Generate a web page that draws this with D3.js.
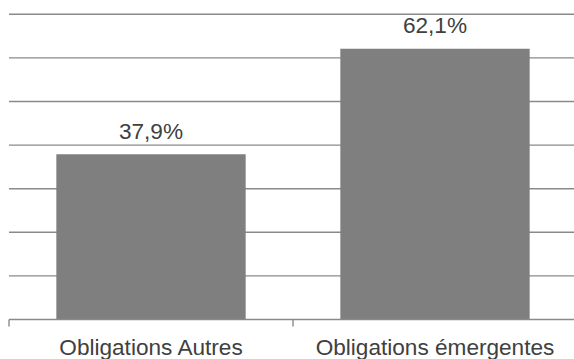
<!DOCTYPE html>
<html>
<head>
<meta charset="utf-8">
<script src="https://cdn.jsdelivr.net/npm/d3@7"></script>
<style>
  body { margin: 0; background: #fff; }
  svg { display: block; font-family: "Liberation Sans", Arial, sans-serif; }
</style>
</head>
<body>
<svg id="chart"></svg>
<script>
// Data
const categories = ["Obligations Autres", "Obligations émergentes"];
const values = [37.9, 62.1];
const gridTicks = [10, 20, 30, 40, 50, 60, 70];

// Layout
const width = 574;
const height = 359;
const x0 = 9, x1 = 577;      // plot area runs slightly past the right edge
const yZero = 319.5, yTop = 14.3;

const svg = d3.select("#chart")
  .attr("width", width)
  .attr("height", height);

const x = d3.scaleBand()
  .domain(categories)
  .range([x0, x1])
  .paddingInner(1 / 3)
  .paddingOuter(1 / 6);

const y = d3.scaleLinear()
  .domain([0, 70])
  .range([yZero, yTop]);

// Gridlines
svg.append("g")
  .selectAll("line")
  .data(gridTicks)
  .join("line")
    .attr("x1", x0)
    .attr("x2", width)
    .attr("y1", d => y(d))
    .attr("y2", d => y(d))
    .attr("stroke", "#8a8a8a")
    .attr("stroke-width", 1.4);

// Bars
svg.append("g")
  .selectAll("rect")
  .data(values)
  .join("rect")
    .attr("x", (d, i) => x(categories[i]))
    .attr("y", d => y(d))
    .attr("width", x.bandwidth())
    .attr("height", d => y(0) - y(d))
    .attr("fill", "#7f7f7f");

// Category axis
const xAxis = d3.axisBottom(x).tickSize(0).tickPadding(0);
const axisG = svg.append("g")
  .attr("transform", `translate(0,${yZero})`)
  .call(xAxis);
axisG.select(".domain").remove();
axisG.selectAll("text").remove();

axisG.append("line")
  .attr("x1", x0).attr("x2", width)
  .attr("y1", 0).attr("y2", 0)
  .attr("stroke", "#8a8a8a")
  .attr("stroke-width", 1.4);

// boundary ticks between categories
const step = x.step();
const tickPos = d3.range(categories.length + 1).map(i => x0 + i * step);
axisG.selectAll(".bt")
  .data(tickPos)
  .join("line")
    .attr("class", "bt")
    .attr("x1", d => d).attr("x2", d => d)
    .attr("y1", 0).attr("y2", 7)
    .attr("stroke", "#8a8a8a")
    .attr("stroke-width", 1.4);

// Category labels
svg.append("g")
  .selectAll("text")
  .data(categories)
  .join("text")
    .attr("x", d => x(d) + x.bandwidth() / 2)
    .attr("y", 355)
    .attr("text-anchor", "middle")
    .attr("font-size", 22.6)
    .attr("fill", "#404040")
    .text(d => d);

// Value labels
svg.append("g")
  .selectAll("text")
  .data(values)
  .join("text")
    .attr("x", (d, i) => x(categories[i]) + x.bandwidth() / 2)
    .attr("y", d => y(d) - 15.5)
    .attr("text-anchor", "middle")
    .attr("font-size", 22.6)
    .attr("fill", "#404040")
    .text(d => d3.format(".1f")(d).replace(".", ",") + "%");
</script>
</body>
</html>
